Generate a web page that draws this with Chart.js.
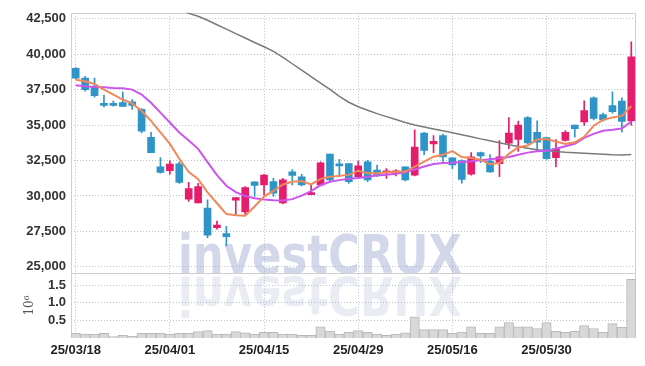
<!DOCTYPE html>
<html>
<head>
<meta charset="utf-8">
<script src="https://cdn.jsdelivr.net/npm/chart.js@4.4.1/dist/chart.umd.min.js"></script>
<style>
html, body { margin: 0; padding: 0; background: #fff; }
#wrap { width: 645px; height: 366px; }
</style>
</head>
<body>
<div id="wrap"><canvas id="candles"></canvas></div>
<script>
var dates = ['25/03/18','25/03/19','25/03/20','25/03/21','25/03/24','25/03/25','25/03/26','25/03/27','25/03/28','25/03/31',
    '25/04/01','25/04/02','25/04/03','25/04/04','25/04/07','25/04/08','25/04/09','25/04/10','25/04/11','25/04/14',
    '25/04/15','25/04/16','25/04/17','25/04/18','25/04/21','25/04/22','25/04/23','25/04/24','25/04/25','25/04/28',
    '25/04/29','25/04/30','25/05/02','25/05/07','25/05/08','25/05/09','25/05/12','25/05/13','25/05/14','25/05/15',
    '25/05/16','25/05/19','25/05/20','25/05/21','25/05/22','25/05/23','25/05/26','25/05/27','25/05/28','25/05/29',
    '25/05/30','25/06/02','25/06/04','25/06/05','25/06/09','25/06/10','25/06/11','25/06/12','25/06/13','25/06/16'];

var opens = [39000,38310,37740,36500,36420,36580,36640,36110,34140,32050,
    31790,32260,29770,29500,29150,27760,27340,29700,28870,30990,
    30780,31010,29500,31700,31350,30080,30780,32960,32190,32280,
    31350,32400,31820,31630,31610,32050,31470,34440,33670,34260,
    32680,32500,31540,33050,32450,32280,33720,33980,35530,34490,
    34120,32700,33910,35000,35220,36920,35740,36370,36690,35300];

var highs = [39050,38430,38310,37110,36690,37320,36800,36160,34490,32700,
    32470,32400,30960,30890,29730,28220,27860,29890,30660,30990,
    31520,31240,31240,31860,31520,30780,32400,32960,32590,32280,
    32450,32520,32170,31930,31860,32050,34670,34490,34260,34370,
    32680,32550,33050,33100,32910,33910,35530,35280,35600,35300,
    34140,33980,34610,35000,36710,36990,35850,37340,36920,40870];

var lows = [38250,37390,36960,36280,36340,36320,36110,34440,33050,31610,
    31540,30890,29610,29500,27060,27650,26470,28690,28690,29960,
    30080,29960,29430,30780,30710,30080,30710,31060,31350,30890,
    31290,31010,31350,31240,31420,31060,31420,32910,33050,32280,
    31930,30900,31470,32350,31650,31350,33330,33140,33670,33210,
    32580,32050,33860,34140,34980,35370,35280,35830,34490,35000];

var closes = [38310,37500,37080,36390,36390,36320,36390,34560,33050,31650,
    32240,30960,30520,30660,27230,27940,27130,29890,30590,30750,
    31470,30190,31130,31450,30780,30240,32330,31130,32120,31010,
    32120,31130,31470,31770,31770,31130,33440,33210,33860,32750,
    32190,31170,32750,32820,31700,32750,34440,35000,33740,33800,
    32630,33330,34490,34740,36020,35460,35360,35950,35250,39820];

// volume in millions
var volumes = [0.13,0.11,0.11,0.13,0.04,0.075,0.05,0.13,0.13,0.13,
    0.11,0.13,0.13,0.18,0.21,0.11,0.11,0.18,0.15,0.11,
    0.16,0.16,0.11,0.11,0.075,0.075,0.32,0.2,0.11,0.17,
    0.21,0.16,0.11,0.075,0.11,0.15,0.6,0.24,0.24,0.24,
    0.13,0.17,0.32,0.13,0.13,0.32,0.44,0.32,0.32,0.27,
    0.44,0.19,0.16,0.19,0.35,0.27,0.16,0.41,0.3,1.67];

var ma5 = [38200,38085,37900,37500,37150,36800,36525,35995,35300,34480,
    33670,32620,31695,31185,30250,29485,28720,28630,28605,29255,
    29950,30350,30810,31000,31045,30810,31205,31345,31415,31485,
    31780,31605,31605,31675,31710,31715,32065,32420,32765,32900,
    33160,32740,32670,32550,32230,32320,32970,33435,33555,33975,
    34015,33835,33665,33785,34170,34950,35365,35530,35645,36345];

var ma10 = [37805,37735,37690,37665,37620,37600,37500,37150,36575,35875,
    35180,34480,33905,33320,32390,31465,30720,30265,29985,29835,
    29740,29695,29675,29775,30020,30335,30755,30995,31115,31205,
    31260,31345,31435,31500,31570,31675,31870,32075,32250,32320,
    32335,32390,32440,32510,32580,32650,32740,32900,33055,33145,
    33180,33330,33505,33680,34100,34375,34600,34670,34760,35250];

var maLong = [null,null,null,null,null,null,null,null,null,null,
    null,43330,42880,42675,42395,42080,41770,41455,41140,40825,
    40525,40200,39780,39325,38875,38420,37965,37515,37025,36610,
    36295,36050,35805,35595,35390,35180,35005,34865,34725,34600,
    34460,34320,34180,34025,33890,33750,33610,33485,33365,33260,
    33190,33135,33085,33050,33015,32980,32945,32910,32895,32925];

var priceTicks = [25000, 27500, 30000, 32500, 35000, 37500, 40000, 42500];
var volumeTicks = [0.5, 1.0, 1.5];

var upColour = '#e51d6c';
var downColour = '#2f95c8';
var gridColour = 'rgba(150,158,190,0.65)';
var tickFont = { family: '"Liberation Sans", Arial, sans-serif', size: 13, weight: 'bold' };

function candleColour(ctx) {
    var i = ctx.dataIndex;
    return closes[i] >= opens[i] ? upColour : downColour;
}

const watermark = {
    id: 'watermark',
    beforeDraw(chart) {
        const ctx = chart.ctx;
        ctx.save();
        ctx.font = 'bold 54px "DejaVu Sans"';
        const sx = 284 / ctx.measureText('investCRUX').width;
        ctx.translate(178, 273);
        ctx.scale(sx, 1);
        ctx.fillStyle = '#d2d8e9';
        ctx.fillText('investCRUX', 0, 0);
        ctx.restore();
        ctx.save();
        ctx.font = 'bold 54px "DejaVu Sans"';
        ctx.translate(178, 277);
        ctx.scale(sx, -1);
        ctx.fillStyle = '#eaecf3';
        ctx.fillText('investCRUX', 0, 0);
        ctx.restore();
    }
};

const frame = {
    id: 'frame',
    beforeDatasetsDraw(chart) {
        const ctx = chart.ctx;
        const a = chart.chartArea;
        const split = Math.round(chart.scales.y.bottom) + 0.5;
        ctx.save();
        ctx.strokeStyle = '#cfcfcf';
        ctx.lineWidth = 1;
        ctx.beginPath();
        ctx.moveTo(Math.round(a.left) + 0.5, a.bottom);
        ctx.lineTo(Math.round(a.left) + 0.5, Math.round(a.top) + 0.5);
        ctx.lineTo(Math.round(a.right) - 0.5, Math.round(a.top) + 0.5);
        ctx.lineTo(Math.round(a.right) - 0.5, a.bottom);
        ctx.moveTo(a.left, split);
        ctx.lineTo(a.right, split);
        ctx.stroke();
        ctx.restore();
    }
};

const data = {
    labels: dates,
    datasets: [
        {
            type: 'line', label: 'MA5', data: ma5, yAxisID: 'y', order: 1,
            borderColor: '#f0895a', borderWidth: 2, pointRadius: 0, tension: 0
        },
        {
            type: 'line', label: 'MA10', data: ma10, yAxisID: 'y', order: 1,
            borderColor: '#cc55ee', borderWidth: 2, pointRadius: 0, tension: 0
        },
        {
            type: 'line', label: 'MA60', data: maLong, yAxisID: 'y', order: 1,
            borderColor: '#7a7a7a', borderWidth: 1.5, pointRadius: 0, tension: 0
        },
        {
            type: 'bar', label: 'body', yAxisID: 'y', order: 2, grouped: false,
            data: opens.map(function (o, i) { return [o, closes[i]]; }),
            backgroundColor: candleColour, barThickness: 7, minBarLength: 2
        },
        {
            type: 'bar', label: 'wick', yAxisID: 'y', order: 3, grouped: false,
            data: lows.map(function (l, i) { return [l, highs[i]]; }),
            backgroundColor: candleColour, barThickness: 1
        },
        {
            type: 'bar', label: 'volume', data: volumes, yAxisID: 'yv', order: 4, grouped: false,
            backgroundColor: '#d8d8d8', borderColor: '#b9b9b9', borderWidth: 1,
            barPercentage: 1, categoryPercentage: 1
        }
    ]
};

const config = {
    type: 'bar',
    data,
    options: {
        animation: false,
        responsive: true,
        maintainAspectRatio: false,
        layout: { padding: { top: 9, right: 9, left: 0, bottom: 0 } },
        plugins: {
            legend: { display: false },
            tooltip: { enabled: false }
        },
        scales: {
            x: {
                offset: true,
                afterFit: function (s) { s.height = 28; },
                grid: {
                    offset: false,
                    drawTicks: false,
                    color: function (ctx) { return ctx.index % 10 === 0 ? gridColour : 'rgba(0,0,0,0)'; }
                },
                border: { display: false, dash: [1, 2] },
                ticks: {
                    autoSkip: false, maxRotation: 0, padding: 5, color: '#222', font: tickFont,
                    callback: function (v, i) { return i % 10 === 0 ? dates[i] : ''; }
                }
            },
            yv: {
                position: 'left', stack: 'panes', stackWeight: 1,
                min: 0, max: 1.85,
                afterFit: function (s) { s.width = 71; },
                afterBuildTicks: function (s) {
                    s.ticks = volumeTicks.map(function (v) { return { value: v }; });
                },
                grid: { color: gridColour, drawTicks: false },
                border: { display: false, dash: [1, 2] },
                title: {
                    display: true, text: '10\u2076', color: '#555',
                    font: { family: '"DejaVu Serif", serif', size: 12 },
                    padding: { top: 23, bottom: 0 }
                },
                ticks: {
                    autoSkip: false, padding: 5, color: '#333', font: tickFont,
                    callback: function (v) { return v.toFixed(1); }
                }
            },
            y: {
                position: 'left', stack: 'panes', stackWeight: 4,
                min: 24565, max: 42920,
                afterFit: function (s) { s.width = 71; },
                afterBuildTicks: function (s) {
                    s.ticks = priceTicks.map(function (v) { return { value: v }; });
                },
                grid: { color: gridColour, drawTicks: false },
                border: { display: false, dash: [1, 2] },
                ticks: {
                    autoSkip: false, padding: 5, color: '#333', font: tickFont,
                    callback: function (v) { return v.toLocaleString('en-US'); }
                }
            }
        }
    },
    plugins: [watermark, frame]
};

new Chart(
    document.getElementById('candles'),
    config
);
</script>
</body>
</html>
